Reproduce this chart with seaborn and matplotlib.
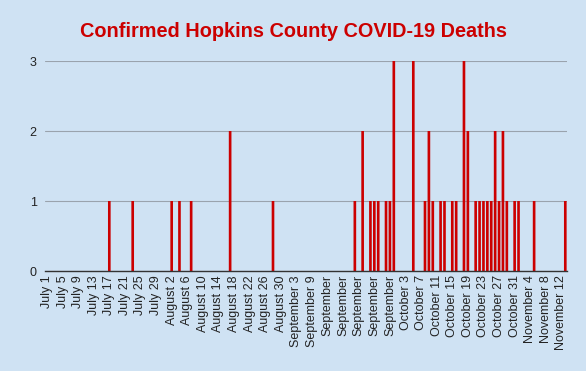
import pandas as pd
import matplotlib
matplotlib.use("Agg")
import matplotlib.pyplot as plt
import seaborn as sns

sns.set_style("white", {"axes.facecolor": "#cfe2f3", "figure.facecolor": "#cfe2f3"})
plt.rcParams["font.family"] = ["Liberation Sans", "DejaVu Sans"]

# daily categories, Jul 1 - Nov 13 (Sep 4 and Sep 5 missing in the sheet)
dates = [d.strftime("%B %-d") for d in pd.date_range("2020-07-01", "2020-11-13")
         if d.strftime("%m-%d") not in ("09-04", "09-05")]

deaths = [
    0, 0, 0, 0, 0, 0, 0, 0, 0, 0,
    0, 0, 0, 0, 0, 0, 1, 0, 0, 0,
    0, 0, 1, 0, 0, 0, 0, 0, 0, 0,
    0, 0, 1, 0, 1, 0, 0, 1, 0, 0,
    0, 0, 0, 0, 0, 0, 0, 2, 0, 0,
    0, 0, 0, 0, 0, 0, 0, 0, 1, 0,
    0, 0, 0, 0, 0, 0, 0, 0, 0, 0,
    0, 0, 0, 0, 0, 0, 0, 0, 0, 1,
    0, 2, 0, 1, 1, 1, 0, 1, 1, 3,
    0, 0, 0, 0, 3, 0, 0, 1, 2, 1,
    0, 1, 1, 0, 1, 1, 0, 3, 2, 0,
    1, 1, 1, 1, 1, 2, 1, 2, 1, 0,
    1, 1, 0, 0, 0, 1, 0, 0, 0, 0,
    0, 0, 0, 1,
]

# labels as they appear on the sheet (long September ones are cut off)
tick_labels = [
    "July 1", "July 5", "July 9", "July 13", "July 17", "July 21", "July 25", "July 29",
    "August 2", "August 6", "August 10", "August 14", "August 18", "August 22",
    "August 26", "August 30", "September 3", "September 9", "September", "September",
    "September", "September", "September", "October 3", "October 7", "October 11",
    "October 15", "October 19", "October 23", "October 27", "October 31",
    "November 4", "November 8", "November 12",
]

df = pd.DataFrame({"date": dates, "deaths": deaths})

fig = plt.figure(figsize=(5.86, 3.71), dpi=100)
ax = fig.add_axes([0.0768, 0.2695, 0.8912, 0.566])

sns.barplot(data=df, x="date", y="deaths", color="#cc0000", saturation=1,
            width=0.68, linewidth=0, edgecolor="none", ax=ax)
for bar in ax.patches:
    bar.set_snap(False)

ax.set_xlim(-0.5, len(dates) - 0.5)
ax.set_ylim(0, 3)
ax.set_yticks([0, 1, 2, 3])
ax.set_xticks(range(0, len(dates), 4))
ax.set_xticklabels(tick_labels, rotation=90, fontsize=9, color="#222222")
ax.tick_params(axis="y", labelsize=9, labelcolor="#222222", length=0, pad=6)
ax.tick_params(axis="x", length=0, pad=3)
ax.grid(axis="y", color="#9aa3ad", linewidth=0.8)
ax.set_axisbelow(True)
for side in ["top", "right", "left"]:
    ax.spines[side].set_visible(False)
ax.spines["bottom"].set_color("#333333")
ax.spines["bottom"].set_linewidth(1)
ax.set_xlabel("")
ax.set_ylabel("")

fig.text(0.5, 0.916, "Confirmed Hopkins County COVID-19 Deaths", ha="center", va="center",
         fontsize=14.3, fontweight="bold", color="#cc0000")

fig.savefig("out.png", dpi=100, facecolor=fig.get_facecolor())
